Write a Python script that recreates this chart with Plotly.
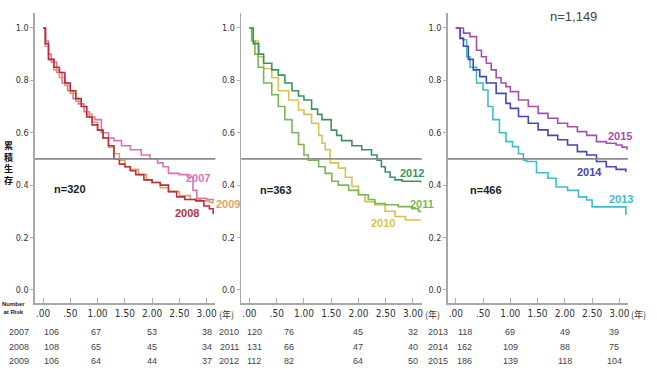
import plotly.graph_objects as go

# ---------------- data ----------------
t07 = [0, 0.05, 0.1, 0.15, 0.25, 0.35, 0.45, 0.55, 0.65, 0.75, 0.85, 0.95, 1.07, 1.2, 1.3, 1.44, 1.6, 1.8, 1.96, 2.1, 2.2, 2.3, 2.5, 2.65, 2.75, 2.82, 3.0, 3.12]
s07 = [1.0, 0.95, 0.90, 0.87, 0.83, 0.79, 0.76, 0.73, 0.71, 0.68, 0.66, 0.65, 0.60, 0.58, 0.57, 0.55, 0.535, 0.515, 0.50, 0.485, 0.47, 0.445, 0.44, 0.43, 0.38, 0.35, 0.345, 0.34]
t08 = [0, 0.04, 0.1, 0.2, 0.3, 0.4, 0.5, 0.6, 0.7, 0.8, 0.9, 1.0, 1.1, 1.2, 1.3, 1.4, 1.5, 1.6, 1.7, 1.85, 2.0, 2.15, 2.3, 2.45, 2.6, 2.8, 2.95, 3.05, 3.12]
s08 = [1.0, 0.94, 0.88, 0.85, 0.83, 0.79, 0.76, 0.73, 0.70, 0.66, 0.63, 0.61, 0.58, 0.55, 0.50, 0.48, 0.47, 0.455, 0.44, 0.42, 0.41, 0.40, 0.375, 0.355, 0.345, 0.34, 0.32, 0.31, 0.29]
t09 = [0, 0.04, 0.1, 0.2, 0.3, 0.4, 0.5, 0.6, 0.7, 0.8, 0.9, 1.0, 1.1, 1.2, 1.3, 1.4, 1.5, 1.6, 1.75, 1.9, 2.0, 2.15, 2.3, 2.5, 2.7, 2.9, 3.05, 3.12]
s09 = [1.0, 0.93, 0.88, 0.84, 0.81, 0.78, 0.75, 0.72, 0.70, 0.67, 0.64, 0.61, 0.58, 0.545, 0.52, 0.495, 0.47, 0.46, 0.44, 0.42, 0.41, 0.39, 0.375, 0.36, 0.345, 0.34, 0.335, 0.33]

t10 = [0, 0.07, 0.16, 0.26, 0.41, 0.53, 0.72, 0.9, 1.0, 1.14, 1.27, 1.33, 1.39, 1.48, 1.63, 1.76, 1.88, 2.0, 2.12, 2.3, 2.49, 2.67, 2.86, 3.14]
s10 = [1.0, 0.95, 0.89, 0.845, 0.81, 0.76, 0.725, 0.687, 0.67, 0.636, 0.59, 0.56, 0.535, 0.485, 0.465, 0.43, 0.395, 0.363, 0.337, 0.325, 0.30, 0.28, 0.267, 0.265]
t11 = [0, 0.04, 0.1, 0.16, 0.26, 0.41, 0.53, 0.65, 0.78, 0.9, 1.0, 1.08, 1.27, 1.39, 1.51, 1.63, 1.82, 2.0, 2.18, 2.3, 2.49, 2.73, 2.98, 3.1, 3.14]
s11 = [1.0, 0.95, 0.90, 0.85, 0.79, 0.745, 0.70, 0.65, 0.60, 0.555, 0.515, 0.495, 0.47, 0.445, 0.415, 0.40, 0.38, 0.363, 0.345, 0.33, 0.325, 0.318, 0.31, 0.30, 0.295]
t12 = [0, 0.07, 0.17, 0.26, 0.41, 0.53, 0.65, 0.78, 0.9, 1.0, 1.14, 1.25, 1.33, 1.5, 1.6, 1.69, 1.88, 2.06, 2.24, 2.34, 2.42, 2.49, 2.58, 2.67, 2.8, 3.0, 3.14]
s12 = [1.0, 0.94, 0.90, 0.865, 0.84, 0.82, 0.79, 0.76, 0.74, 0.725, 0.69, 0.67, 0.65, 0.61, 0.59, 0.57, 0.55, 0.535, 0.515, 0.495, 0.47, 0.45, 0.43, 0.42, 0.415, 0.415, 0.41]

t13 = [0, 0.08, 0.14, 0.2, 0.26, 0.38, 0.5, 0.59, 0.68, 0.8, 0.92, 1.04, 1.15, 1.24, 1.3, 1.48, 1.69, 1.84, 2.05, 2.25, 2.4, 2.5, 2.96, 3.12]
s13 = [1.0, 0.96, 0.955, 0.89, 0.85, 0.79, 0.763, 0.70, 0.65, 0.60, 0.566, 0.547, 0.52, 0.495, 0.49, 0.447, 0.426, 0.393, 0.38, 0.355, 0.343, 0.317, 0.317, 0.287]
t14 = [0, 0.08, 0.14, 0.23, 0.32, 0.44, 0.56, 0.74, 0.92, 1.0, 1.15, 1.33, 1.51, 1.69, 1.87, 2.05, 2.23, 2.4, 2.58, 2.76, 2.94, 3.12]
s14 = [1.0, 0.96, 0.93, 0.88, 0.84, 0.814, 0.79, 0.75, 0.712, 0.693, 0.662, 0.636, 0.611, 0.59, 0.573, 0.553, 0.528, 0.515, 0.49, 0.47, 0.46, 0.45]
t15 = [0, 0.14, 0.26, 0.38, 0.47, 0.56, 0.65, 0.74, 0.83, 0.92, 1.0, 1.15, 1.33, 1.51, 1.69, 1.87, 2.05, 2.23, 2.4, 2.58, 2.76, 2.94, 3.05, 3.14]
s15 = [1.0, 0.98, 0.967, 0.915, 0.89, 0.865, 0.84, 0.81, 0.79, 0.776, 0.757, 0.725, 0.70, 0.674, 0.655, 0.636, 0.623, 0.604, 0.59, 0.566, 0.56, 0.553, 0.545, 0.535]

years = ["2007", "2008", "2009", "2010", "2011", "2012", "2013", "2014", "2015"]
panel_n = ["n=320", "n=363", "n=466"]
total_n = "n=1,149"
risk_times = [0, 1, 2, 3]
risk_2007 = [106, 67, 53, 38]
risk_2008 = [108, 65, 45, 34]
risk_2009 = [106, 64, 44, 37]
risk_2010 = [120, 76, 45, 32]
risk_2011 = [131, 66, 47, 40]
risk_2012 = [112, 82, 64, 50]
risk_2013 = [118, 69, 49, 39]
risk_2014 = [162, 109, 88, 75]
risk_2015 = [186, 139, 118, 104]
x_tickvals = [0, 0.5, 1, 1.5, 2, 2.5, 3]
x_ticktext = [".00", ".50", "1.00", "1.50", "2.00", "2.50", "3.00"]
y_tickvals = [0, 0.2, 0.4, 0.6, 0.8, 1.0]
y_ticktext = ["0.0", "0.2", "0.4", "0.6", "0.8", "1.0"]

# ---------------- style ----------------
W, H = 657, 370
NARROW = "Liberation Sans Narrow, Arial Narrow, DejaVu Sans Condensed, sans-serif"
SANS = "Liberation Sans, Arial, sans-serif"
colors = {
    "2007": "#d874b4", "2008": "#b4323c", "2009": "#e0a264",
    "2010": "#d6c250", "2011": "#7ab656", "2012": "#3a9460",
    "2013": "#3ebcc8", "2014": "#4646b4", "2015": "#a450aa",
}
series = [
    ("2007", t07, s07, 1), ("2009", t09, s09, 1), ("2008", t08, s08, 1),
    ("2010", t10, s10, 2), ("2011", t11, s11, 2), ("2012", t12, s12, 2),
    ("2013", t13, s13, 3), ("2014", t14, s14, 3), ("2015", t15, s15, 3),
]
axis_px = [(35, 216), (242, 423), (449, 630)]
y_bottom_px, y_top_px = 303, 13

fig = go.Figure()
for name, t, s, p in series:
    sfx = "" if p == 1 else str(p)
    fig.add_trace(go.Scatter(
        x=t, y=s, mode="lines", line=dict(color=colors[name], width=1.6, shape="hv"),
        xaxis="x" + sfx, yaxis="y" + sfx, showlegend=False, hoverinfo="skip"))

layout = dict(
    width=W, height=H, margin=dict(l=0, r=0, t=0, b=0),
    paper_bgcolor="white", plot_bgcolor="white", showlegend=False,
)
ydom = [(H - y_bottom_px) / H, (H - y_top_px) / H]
shapes = []
for i, (x0, x1) in enumerate(axis_px):
    sfx = "" if i == 0 else str(i + 1)
    layout["xaxis" + sfx] = dict(
        domain=[x0 / W, x1 / W], range=[-0.15, 3.16], anchor="y" + sfx,
        showgrid=False, zeroline=False, showline=True, linecolor="#a8a8a8", linewidth=1.5,
        ticks="inside", ticklen=5, tickcolor="#b0b0b0", tickwidth=1,
        tickvals=x_tickvals, ticktext=x_ticktext,
        tickfont=dict(family=NARROW, size=10, color="#333"),
    )
    layout["yaxis" + sfx] = dict(
        domain=ydom, range=[-0.05, 1.057], anchor="x" + sfx,
        showgrid=False, zeroline=False, showline=True, linecolor="#a8a8a8", linewidth=1.5,
        ticks="outside", ticklen=3, tickcolor="#b0b0b0", tickwidth=1,
        tickvals=y_tickvals, ticktext=y_ticktext,
        tickfont=dict(family=NARROW, size=9, color="#333"),
    )
    shapes.append(dict(type="line", xref="x" + sfx + " domain", x0=0, x1=1,
                       yref="y" + sfx, y0=0.5, y1=0.5,
                       line=dict(color="#8c8c8c", width=1.8)))
layout["shapes"] = shapes

ann = []
# year unit after 3.00
for i in range(3):
    sfx = "" if i == 0 else str(i + 1)
    ann.append(dict(xref="x" + sfx, yref="paper", x=3.0, y=1 - 314 / H, text="(年)",
                    xanchor="left", yanchor="middle", xshift=10, showarrow=False,
                    font=dict(family="Noto Sans CJK JP", size=9, color="#333")))
# panel n labels
n_pos = [(70, 189), (277, 190), (487, 190)]
for txt, (px, py) in zip(panel_n, n_pos):
    ann.append(dict(xref="paper", yref="paper", x=px / W, y=1 - py / H, text="<b>" + txt + "</b>",
                    showarrow=False, xanchor="center", yanchor="middle",
                    font=dict(family=SANS, size=11, color="#222")))
ann.append(dict(xref="paper", yref="paper", x=575 / W, y=1 - 16 / H, text=total_n,
                showarrow=False, xanchor="center", yanchor="middle",
                font=dict(family=SANS, size=13, color="#444")))
# curve labels
lab_pos = {
    "2007": (199, 178), "2008": (188, 213), "2009": (229, 204),
    "2010": (384, 223), "2011": (423, 204), "2012": (413, 173),
    "2013": (623, 199), "2014": (591, 172), "2015": (622, 136),
}
for y in years:
    px, py = lab_pos[y]
    ann.append(dict(xref="paper", yref="paper", x=px / W, y=1 - py / H, text="<b>" + y + "</b>",
                    showarrow=False, xanchor="center", yanchor="middle",
                    font=dict(family=SANS, size=11, color=colors[y])))
# y title
ann.append(dict(xref="paper", yref="paper", x=9 / W, y=1 - 163 / H,
                text="<b>累<br>積<br>生<br>存</b>", showarrow=False,
                xanchor="center", yanchor="middle",
                font=dict(family="Noto Sans CJK JP", size=9, color="#111")))
# number at risk header
ann.append(dict(xref="paper", yref="paper", x=14 / W, y=1 - 308 / H,
                text="<b>Number<br>at Risk</b>", showarrow=False,
                xanchor="center", yanchor="middle",
                font=dict(family=SANS, size=6, color="#222")))
# risk table
risk_rows = [
    [("2007", risk_2007), ("2008", risk_2008), ("2009", risk_2009)],
    [("2010", risk_2010), ("2011", risk_2011), ("2012", risk_2012)],
    [("2013", risk_2013), ("2014", risk_2014), ("2015", risk_2015)],
]
year_px = [19, 230, 439]
col_shift = [[8, -2, 0, 0], [5, -15, 0, 0], [9, 0, 0, -5]]
row_py = [332, 347, 361]
for i, rows in enumerate(risk_rows):
    sfx = "" if i == 0 else str(i + 1)
    for (yr, vals), py in zip(rows, row_py):
        ann.append(dict(xref="paper", yref="paper", x=year_px[i] / W, y=1 - py / H,
                        text=yr, showarrow=False, xanchor="center", yanchor="middle",
                        font=dict(family=SANS, size=9, color="#444")))
        for tt, v, dx in zip(risk_times, vals, col_shift[i]):
            ann.append(dict(xref="x" + sfx, yref="paper", x=tt, y=1 - py / H,
                            text=str(v), showarrow=False, xanchor="center", yanchor="middle",
                            xshift=dx, font=dict(family=SANS, size=9, color="#444")))
layout["annotations"] = ann
fig.update_layout(**layout)
fig.write_html("out.html", config={"displayModeBar": False, "staticPlot": True},
               post_script="document.body.style.margin='0';document.body.style.padding='0';")
